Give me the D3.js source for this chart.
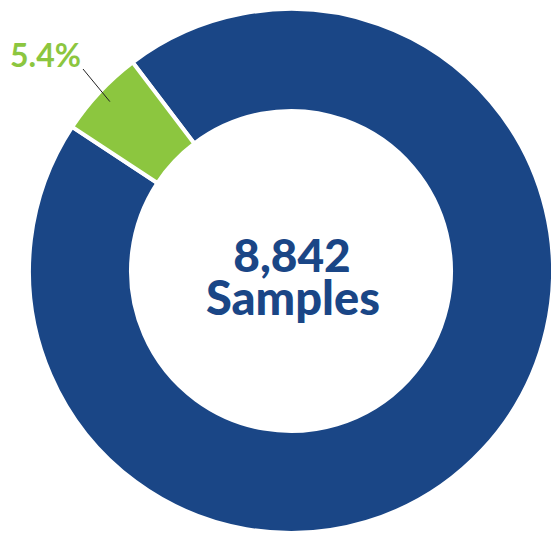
<!DOCTYPE html>
<html>
<head>
<meta charset="utf-8">
<script src="https://cdn.jsdelivr.net/npm/d3@7"></script>
<style>
  body { margin: 0; background: #fff; }
  svg { display: block; }
</style>
</head>
<body>
<svg width="551" height="537"></svg>
<script>
// Data
var categories = ["Other", "Highlighted"];
var shares = [94.6, 5.4];
var colors = ["#1a4686", "#8cc63f"];
var totalSamples = 8842;

var svg = d3.select("svg");
var cx = 291, cy = 271;
var outerR = 262, innerR = 160;

var pie = d3.pie()
  .sort(null)
  .value(function(d) { return d; })
  .startAngle(-37.2 * Math.PI / 180)
  .endAngle((360 - 37.2) * Math.PI / 180);

var arc = d3.arc().innerRadius(innerR).outerRadius(outerR);

var g = svg.append("g").attr("transform", "translate(" + cx + "," + cy + ")");

var arcs = pie(shares);

g.selectAll("path")
  .data(arcs)
  .enter().append("path")
  .attr("d", arc)
  .attr("fill", function(d, i) { return colors[i]; })
  .attr("stroke", "#fff")
  .attr("stroke-width", 4)
  .attr("stroke-linejoin", "miter");

// Label for the small slice, with leader line
var small = arcs[1];
var mid = (small.startAngle + small.endAngle) / 2;
var rLine = outerR - 14;
g.append("line")
  .attr("x1", Math.sin(mid) * rLine).attr("y1", -Math.cos(mid) * rLine)
  .attr("x2", 83 - cx).attr("y2", 69 - cy)
  .attr("stroke", "#222")
  .attr("stroke-width", 1);

svg.append("text")
  .attr("x", 10)
  .attr("y", 67)
  .attr("font-family", "Lato")
  .attr("font-weight", 700)
  .attr("font-size", 32)
  .attr("fill", colors[1])
  .text(d3.format(".1f")(shares[1]) + "%");

// Center text
g.append("text")
  .attr("text-anchor", "middle")
  .attr("x", 1).attr("y", 1)
  .attr("font-family", "Lato")
  .attr("font-weight", 900)
  .attr("font-size", 46)
  .attr("fill", colors[0])
  .text(d3.format(",")(totalSamples));

g.append("text")
  .attr("text-anchor", "middle")
  .attr("x", 2).attr("y", 44)
  .attr("font-family", "Lato")
  .attr("font-weight", 900)
  .attr("font-size", 47)
  .attr("fill", colors[0])
  .text("Samples");
</script>
</body>
</html>
